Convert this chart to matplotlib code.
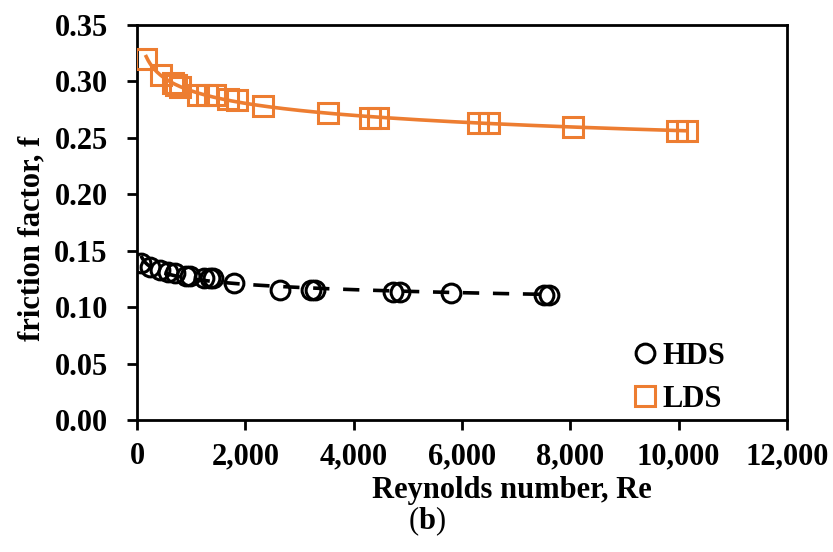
import matplotlib

matplotlib.use("Agg")

import matplotlib.pyplot as plt
import numpy as np
from matplotlib.ticker import FuncFormatter, FormatStrFormatter

# HDS (circles, black dashed power trend)
HDS_RE = [75, 240, 425, 570, 700, 905, 980, 1240, 1350, 1400, 1790,
          2645, 3220, 3290, 4730, 4860, 5790, 7520, 7600]
HDS_F = [0.139, 0.1356, 0.133, 0.131, 0.130, 0.128, 0.1275, 0.126, 0.1258, 0.1255, 0.1214,
         0.1152, 0.1150, 0.1148, 0.1134, 0.1132, 0.1125, 0.1110, 0.1106]

# LDS (squares, orange solid power trend)
LDS_RE = [170, 445, 665, 720, 795, 1130, 1290, 1440, 1680, 1850, 2330,
          3530, 4310, 4440, 6300, 6490, 8040, 9970, 10150]
LDS_F = [0.320, 0.306, 0.299, 0.297, 0.295, 0.288, 0.288, 0.288, 0.2845, 0.2835, 0.278,
         0.272, 0.2676, 0.2676, 0.263, 0.263, 0.2596, 0.256, 0.256]

X_TICKS = [0, 2000, 4000, 6000, 8000, 10000, 12000]
Y_TICKS = [0.00, 0.05, 0.10, 0.15, 0.20, 0.25, 0.30, 0.35]

ORANGE = "#ED7D31"
FS = 22


def power_fit(x, y):
    x = np.asarray(x, dtype=float)
    y = np.asarray(y, dtype=float)
    b, ln_a = np.polyfit(np.log(x), np.log(y), 1)
    xs = np.linspace(x.min(), x.max(), 300)
    return xs, np.exp(ln_a) * xs ** b


plt.rcParams["font.family"] = ["Liberation Serif", "DejaVu Serif"]
plt.rcParams["font.weight"] = "bold"
plt.rcParams["mathtext.fontset"] = "custom"
plt.rcParams["mathtext.rm"] = "Liberation Serif"
plt.rcParams["mathtext.bf"] = "Liberation Serif:bold"

fig = plt.figure(figsize=(8.33, 5.52), dpi=100)
ax = fig.add_axes([137 / 833, 1 - 420 / 552, 650 / 833, 395 / 552])

ax.plot(HDS_RE, HDS_F, linestyle="none", marker="o", ms=13.5, mfc="none",
        mec="black", mew=2.2, label="HDS", zorder=3)
ax.plot(LDS_RE, LDS_F, linestyle="none", marker="s", ms=14, mfc="none",
        mec=ORANGE, mew=2.2, label="LDS", zorder=3)

xs, ys = power_fit(HDS_RE, HDS_F)
ax.plot(xs, ys, color="black", linewidth=2.6, linestyle=(0, (4.5, 3.8)), zorder=4)
xs, ys = power_fit(LDS_RE, LDS_F)
ax.plot(xs, ys, color=ORANGE, linewidth=2.6, zorder=4)

ax.set_xlim(0, 12000)
ax.set_ylim(0, 0.35)
ax.set_xticks(X_TICKS)
ax.set_yticks(Y_TICKS)
ax.xaxis.set_major_formatter(FuncFormatter(lambda v, p: f"{v:,.0f}"))
ax.yaxis.set_major_formatter(FormatStrFormatter("%.2f"))
ax.tick_params(axis="both", direction="out", length=7, width=2, labelsize=FS)
ax.tick_params(axis="x", pad=9)
ax.tick_params(axis="y", pad=14)
for sp in ax.spines.values():
    sp.set_linewidth(2)
    sp.set_color("black")

ax.set_xlabel("Reynolds number, Re", fontsize=FS, fontweight="bold")
ax.xaxis.set_label_coords(0.577, -0.143)
ax.set_ylabel("friction factor, f", fontsize=FS, fontweight="bold")
ax.yaxis.label.set_va("center")
ax.yaxis.set_label_coords(-0.162, 0.461)

ax.legend(loc="lower right", bbox_to_anchor=(0.915, 0.0), frameon=False,
          fontsize=FS, handletextpad=0.1, labelspacing=0.45, borderaxespad=0,
          borderpad=0.2, handlelength=1.0)

fig.text(427 / 833, 1 - 521 / 552, r"($\mathbf{b}$)", fontsize=FS,
         fontweight="normal", ha="center", va="center")

fig.savefig("out.png", dpi=100, facecolor="white")
